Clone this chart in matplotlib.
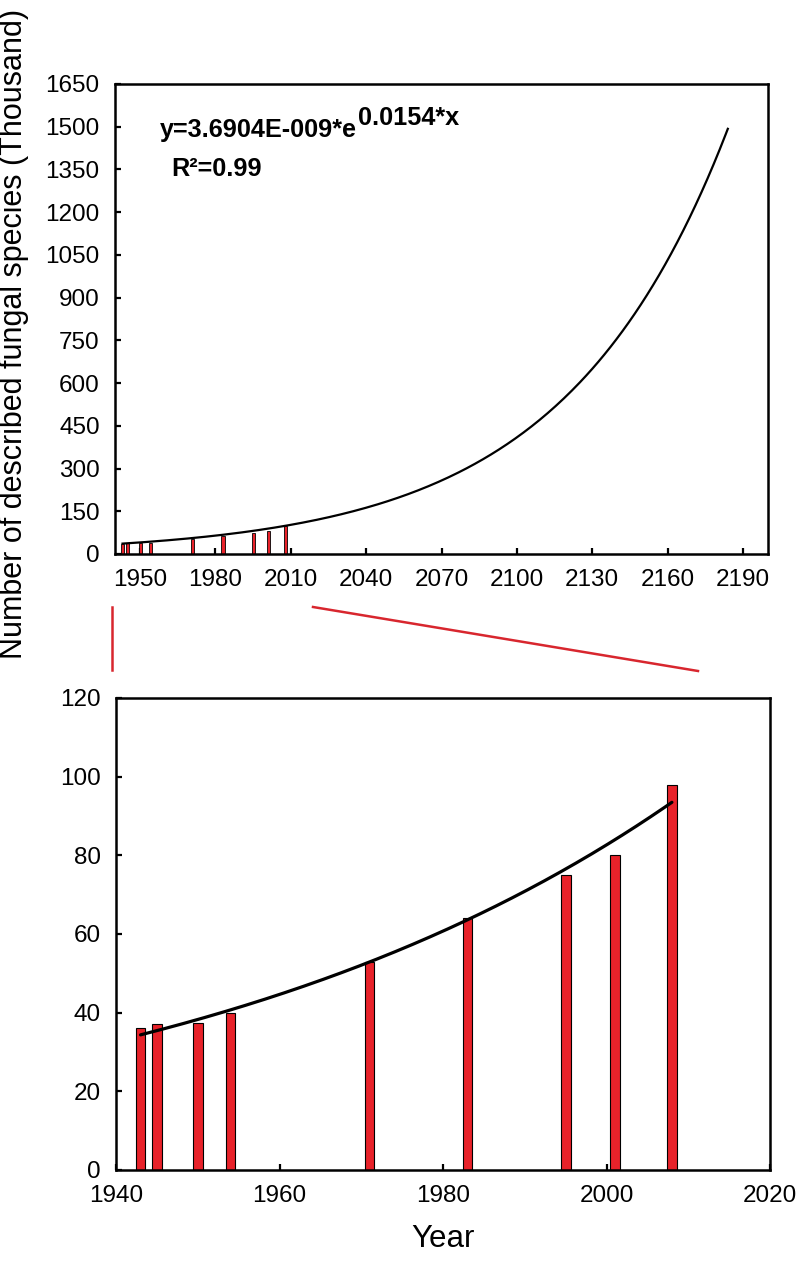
import numpy as np
import matplotlib
matplotlib.use("Agg")
import matplotlib.pyplot as plt
from matplotlib.lines import Line2D

plt.rcParams['font.family'] = ['Liberation Sans', 'DejaVu Sans']

# 已描述真菌物种数（千种）
years = [1943, 1945, 1950, 1954, 1971, 1983, 1995, 2001, 2008]
species = [36, 37, 37.5, 40, 53, 64, 75, 80, 98]

# 拟合曲线 y = a * e^(b*x)
fit_a = 3.6904e-9
fit_b = 0.0154
fit_a_zoom = 3.475e-9   # 下图曲线略低
fit_x_top = (1943, 2184)
fit_x_zoom = (1943, 2008)

top_xticks = list(range(1950, 2191, 30))
top_yticks = list(range(0, 1651, 150))
bot_xticks = list(range(1940, 2021, 20))
bot_yticks = list(range(0, 121, 20))

bar_color = '#e8222a'
link_color = '#d8262e'
W, H = 800, 1263

fig = plt.figure(figsize=(W / 100, H / 100), dpi=100)
ax1 = fig.add_axes([115 / W, 1 - 554 / H, 653 / W, 470 / H])
ax2 = fig.add_axes([116 / W, 1 - 1170 / H, 654 / W, 472 / H])


def style(ax):
    for s in ax.spines.values():
        s.set_linewidth(1.8)
    ax.tick_params(direction='in', length=4.5, width=1.6, labelsize=17.5,
                   pad=11, top=False, right=False)


def fit_curve(a, x0, x1):
    x = np.linspace(x0, x1, 300)
    return x, a * np.exp(fit_b * x) / 1000.0


# 上图：长期预测
ax1.bar(years, species, width=1.2, color=bar_color, edgecolor='black',
        linewidth=0.6, zorder=2)
cx, cy = fit_curve(fit_a, *fit_x_top)
ax1.plot(cx, cy, color='black', lw=1.6, zorder=3)
ax1.set_xlim(1940, 2200)
ax1.set_ylim(0, 1650)
ax1.set_xticks(top_xticks)
ax1.set_yticks(top_yticks)
style(ax1)

t1 = fig.text(160 / W, 1 - 137 / H, 'y=3.6904E-009*e', fontsize=18.2,
              fontweight='bold', va='baseline', ha='left')
ax1.annotate('0.0154*x', xy=(1, 0), xycoords=t1, xytext=(0.5, 8.6),
             textcoords='offset points', fontsize=18.2, fontweight='bold',
             va='bottom', ha='left', annotation_clip=False)
fig.text(171 / W, 1 - 176 / H, 'R\u00b2=0.99', fontsize=18.2,
         fontweight='bold', va='baseline', ha='left')

# 下图：放大
ax2.bar(years, species, width=1.2, color=bar_color, edgecolor='black',
        linewidth=0.8, zorder=2)
cx, cy = fit_curve(fit_a_zoom, *fit_x_zoom)
ax2.plot(cx, cy, color='black', lw=2.3, zorder=3, solid_capstyle='round')
ax2.set_xlim(1940, 2020)
ax2.set_ylim(0, 120)
ax2.set_xticks(bot_xticks)
ax2.set_yticks(bot_yticks)
style(ax2)
ax2.set_xlabel('Year', fontsize=22.5, labelpad=12)

fig.text(14 / W, 1 - 334 / H, 'Number of described fungal species (Thousand)',
         fontsize=22, rotation=90, va='center', ha='center')

# 红色连接线
for (x0, y0), (x1, y1) in [((112, 607), (112, 670)), ((313, 607), (698, 671))]:
    fig.add_artist(Line2D([x0 / W, x1 / W], [1 - y0 / H, 1 - y1 / H],
                          transform=fig.transFigure, color=link_color, lw=1.8))

fig.savefig('out.png', dpi=100)
